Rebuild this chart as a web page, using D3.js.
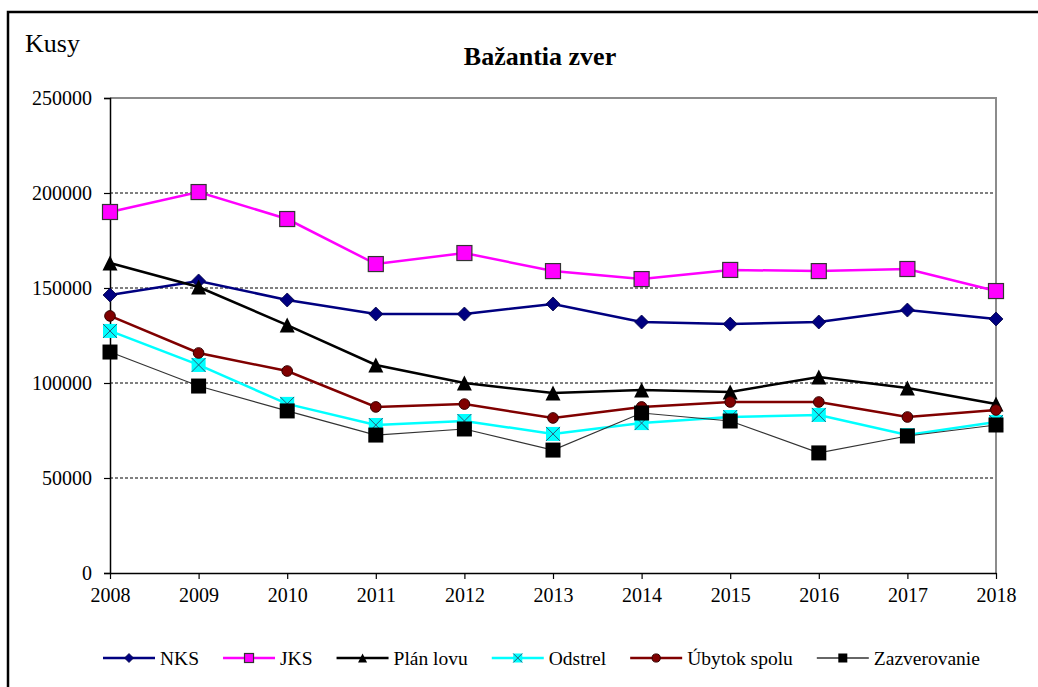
<!DOCTYPE html>
<html>
<head>
<meta charset="utf-8">
<script src="https://cdn.jsdelivr.net/npm/d3@7"></script>
<style>
  html, body { margin: 0; padding: 0; background: #fff; }
  svg text { font-family: "Liberation Serif", "Times New Roman", serif; }
</style>
</head>
<body>
<div id="chart"></div>
<script>
"use strict";

// data
var years = [2008, 2009, 2010, 2011, 2012, 2013, 2014, 2015, 2016, 2017, 2018];
var yTicks = [0, 50000, 100000, 150000, 200000, 250000];

var nks          = [146300, 153700, 143700, 136300, 136300, 141600, 132100, 131000, 132100, 138400, 133700];
var jks          = [190000, 200500, 186300, 162600, 168400, 158900, 154700, 159500, 158900, 160000, 148400];
var planLovu     = [163200, 150500, 130500, 109500, 100000, 94700, 96300, 95300, 103200, 97400, 88900];
var odstrel      = [127400, 109500, 89000, 77900, 80000, 73200, 78900, 82100, 83200, 72600, 79500];
var ubytokSpolu  = [135300, 115800, 106300, 87400, 88900, 81600, 87400, 90000, 90000, 82100, 85800];
var zazverovanie = [116300, 98400, 85300, 72600, 75800, 64700, 84200, 80000, 63200, 72100, 77900];

var series = [
  {name: "NKS", values: nks, color: "#000080", width: 2.5, marker: "diamond"},
  {name: "JKS", values: jks, color: "#ff00ff", width: 2.5, marker: "square"},
  {name: "Plán lovu", values: planLovu, color: "#000000", width: 2.5, marker: "triangle"},
  {name: "Odstrel", values: odstrel, color: "#00ffff", width: 2.5, marker: "x"},
  {name: "Úbytok spolu", values: ubytokSpolu, color: "#800000", width: 2.5, marker: "circle"},
  {name: "Zazverovanie", values: zazverovanie, color: "#333333", width: 1.2, marker: "blacksquare"}
];

var FONT = "Liberation Serif, Times New Roman, serif";
var W = 1038, H = 687;
var plot = {left: 110, right: 996, top: 98, bottom: 573};

var svg = d3.select("#chart").append("svg")
    .attr("width", W)
    .attr("height", H)
    .style("display", "block");

svg.append("rect").attr("width", W).attr("height", H).attr("fill", "#fff");

// outer frame (runs off the right and bottom edges)
svg.append("rect")
    .attr("x", 8).attr("y", 12)
    .attr("width", W + 20).attr("height", H + 20)
    .attr("fill", "none")
    .attr("stroke", "#000")
    .attr("stroke-width", 2.5);

var x = d3.scalePoint()
    .domain(years)
    .range([plot.left, plot.right]);

var y = d3.scaleLinear()
    .domain([0, 250000])
    .range([plot.bottom, plot.top]);

// gridlines
svg.append("g")
  .selectAll("line")
  .data(yTicks.filter(function(d) { return d > 0 && d < 250000; }))
  .enter().append("line")
    .attr("x1", plot.left).attr("x2", plot.right)
    .attr("y1", function(d) { return y(d); })
    .attr("y2", function(d) { return y(d); })
    .attr("stroke", "#000")
    .attr("stroke-width", 1)
    .attr("stroke-dasharray", "3,2");

// grey plot border top/right
svg.append("path")
    .attr("d", "M" + plot.left + "," + plot.top + "H" + plot.right + "V" + plot.bottom)
    .attr("fill", "none")
    .attr("stroke", "#8c8c8c")
    .attr("stroke-width", 2);

// y axis
var yAxis = svg.append("g")
    .attr("transform", "translate(" + plot.left + ",0)")
    .call(d3.axisLeft(y).tickValues(yTicks).tickSize(6).tickPadding(12).tickFormat(d3.format("d")));
yAxis.select(".domain").attr("stroke", "#000").attr("stroke-width", 1.5);
yAxis.selectAll(".tick line").attr("stroke", "#000").attr("stroke-width", 1.2);
yAxis.selectAll(".tick text")
    .style("font-family", FONT)
    .attr("font-size", 20)
    .attr("fill", "#000");

// x axis
var xAxis = svg.append("g")
    .attr("transform", "translate(0," + plot.bottom + ")")
    .call(d3.axisBottom(x).tickSize(6).tickPadding(9).tickSizeOuter(0));
xAxis.select(".domain").attr("stroke", "#000").attr("stroke-width", 1.5);
xAxis.selectAll(".tick line").attr("stroke", "#000").attr("stroke-width", 1.2);
xAxis.selectAll(".tick text")
    .style("font-family", FONT)
    .attr("font-size", 20)
    .attr("fill", "#000");

// titles
svg.append("text")
    .style("font-family", FONT)
    .attr("x", 25).attr("y", 52)
    .attr("font-size", 26)
    .text("Kusy");

svg.append("text")
    .style("font-family", FONT)
    .attr("x", 540).attr("y", 65)
    .attr("text-anchor", "middle")
    .attr("font-size", 26)
    .attr("font-weight", "bold")
    .text("Bažantia zver");

// marker drawing
function drawMarker(g, type, color, s) {
  var h = s / 2;
  if (type === "diamond") {
    g.append("path")
      .attr("d", "M0," + (-h) + "L" + h + ",0L0," + h + "L" + (-h) + ",0Z")
      .attr("fill", color).attr("stroke", "#000040").attr("stroke-width", 0.8);
  } else if (type === "square") {
    g.append("rect")
      .attr("x", -h).attr("y", -h).attr("width", s).attr("height", s)
      .attr("fill", color).attr("stroke", "#333").attr("stroke-width", 1.2);
  } else if (type === "blacksquare") {
    g.append("rect")
      .attr("x", -h).attr("y", -h).attr("width", s).attr("height", s)
      .attr("fill", "#000");
  } else if (type === "triangle") {
    g.append("path")
      .attr("d", "M0," + (-h) + "L" + h + "," + h + "L" + (-h) + "," + h + "Z")
      .attr("fill", "#000");
  } else if (type === "circle") {
    g.append("circle")
      .attr("r", h * 0.82)
      .attr("fill", color).attr("stroke", "#300").attr("stroke-width", 1);
  } else if (type === "x") {
    g.append("rect")
      .attr("x", -h).attr("y", -h).attr("width", s).attr("height", s)
      .attr("fill", color);
    g.append("path")
      .attr("d", "M" + (-h) + "," + (-h) + "L" + h + "," + h + "M" + h + "," + (-h) + "L" + (-h) + "," + h)
      .attr("stroke", "#2a5a7a").attr("stroke-width", 1).attr("fill", "none");
  }
}

var line = d3.line()
    .x(function(d, i) { return x(years[i]); })
    .y(function(d) { return y(d); });

series.forEach(function(s) {
  svg.append("path")
      .datum(s.values)
      .attr("d", line)
      .attr("fill", "none")
      .attr("stroke", s.color)
      .attr("stroke-width", s.width);

  s.values.forEach(function(v, i) {
    var g = svg.append("g")
        .attr("transform", "translate(" + x(years[i]) + "," + y(v) + ")");
    var size = s.marker === "diamond" ? 14 : (s.marker === "circle" ? 13 : (s.marker === "x" ? 14 : 15));
    drawMarker(g, s.marker, s.color, size);
  });
});

// legend
var lx = 103, ly = 658;
series.forEach(function(s) {
  var g = svg.append("g").attr("transform", "translate(" + lx + "," + ly + ")");
  g.append("line")
      .attr("x1", 0).attr("x2", 52)
      .attr("stroke", s.color)
      .attr("stroke-width", s.width === 2.5 ? 2.5 : 1.5);
  var m = g.append("g").attr("transform", "translate(26,0)");
  drawMarker(m, s.marker, s.color, s.marker === "circle" ? 10 : 9);
  var t = g.append("text")
      .style("font-family", FONT)
      .attr("x", 57).attr("y", 7)
      .attr("font-size", 19.5)
      .text(s.name);
  lx += 57 + t.node().getComputedTextLength() + 24;
});
</script>
</body>
</html>
